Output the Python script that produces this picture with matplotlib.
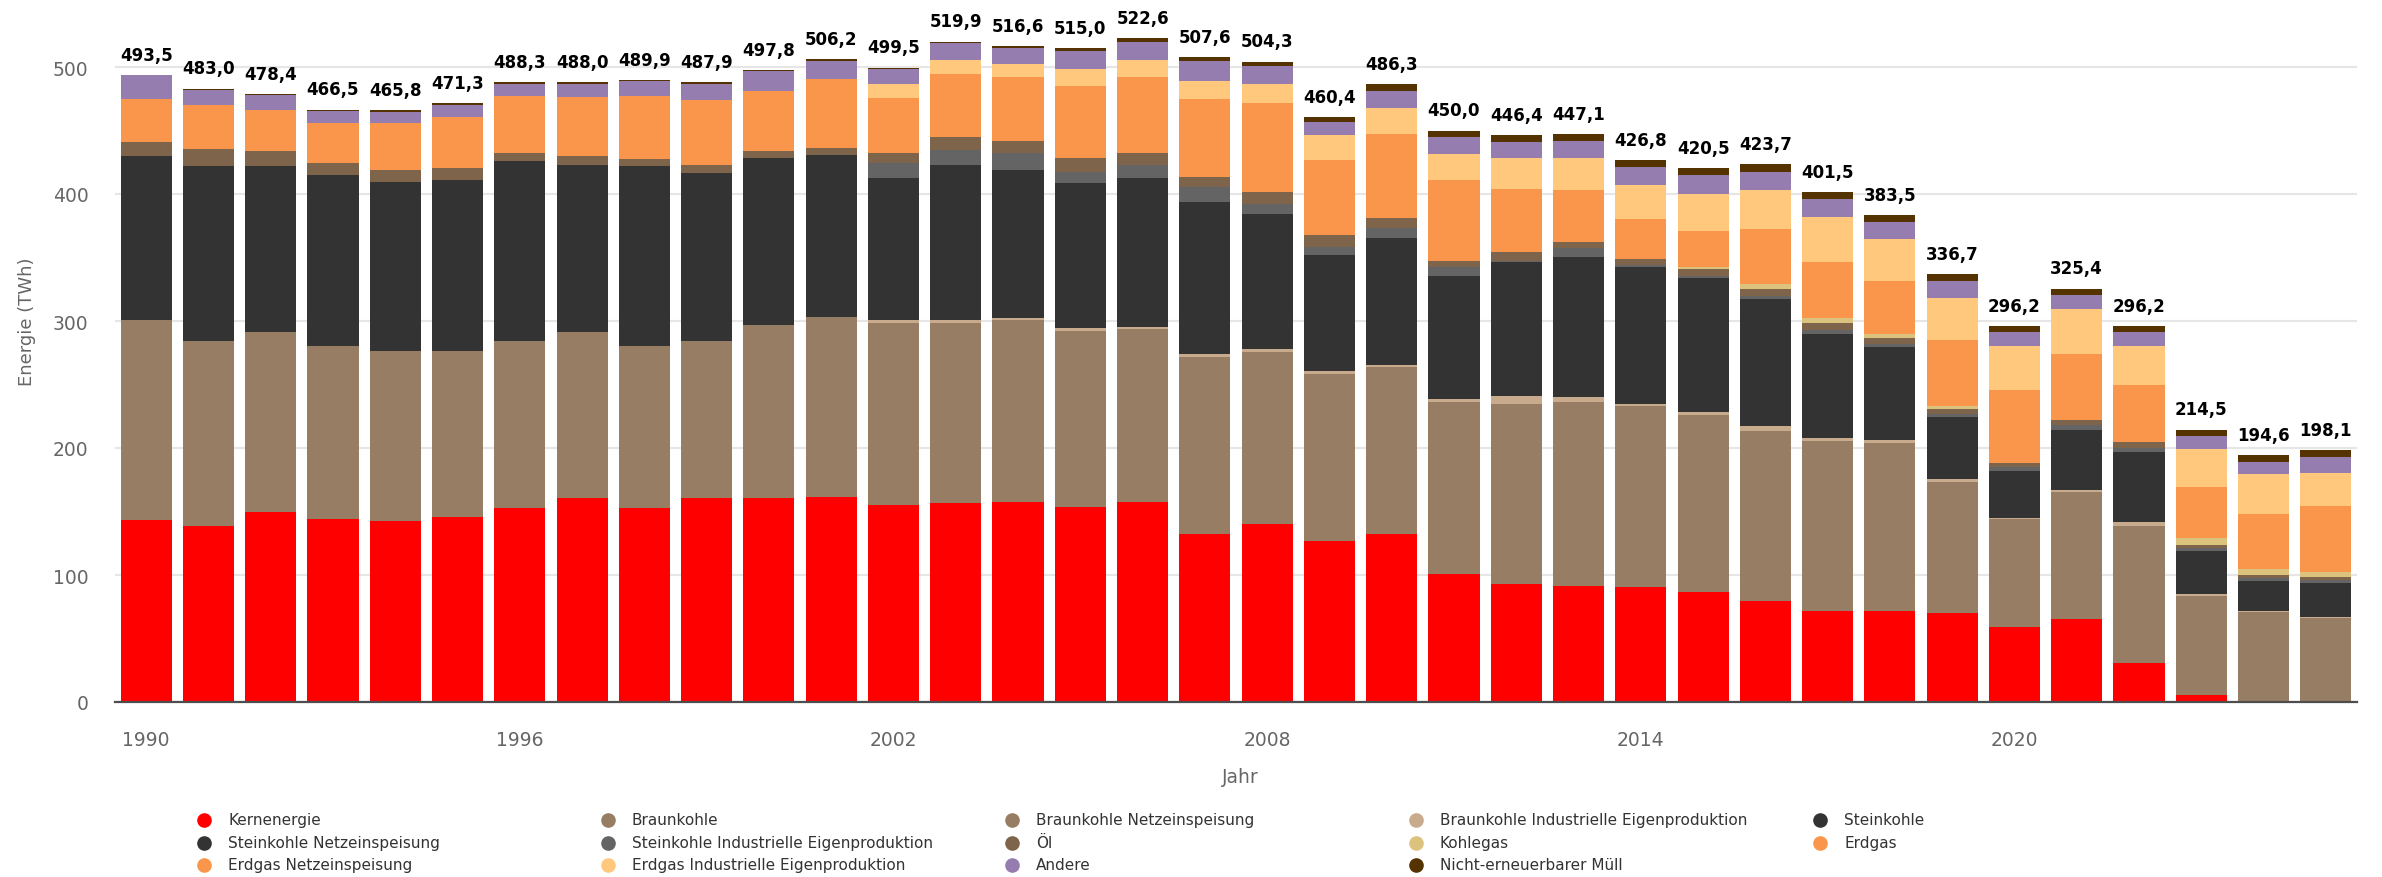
import matplotlib
matplotlib.use("Agg")
import matplotlib.pyplot as plt
import numpy as np
from matplotlib.lines import Line2D

# Data (TWh)
years = list(range(1990, 2026))
totals = [493.5, 483.0, 478.4, 466.5, 465.8, 471.3, 488.3, 488.0, 489.9, 487.9,
          497.8, 506.2, 499.5, 519.9, 516.6, 515.0, 522.6, 507.6, 504.3, 460.4,
          486.3, 450.0, 446.4, 447.1, 426.8, 420.5, 423.7, 401.5, 383.5, 336.7,
          296.2, 325.4, 296.2, 214.5, 194.6, 198.1]

kernenergie = [143.5, 138.9, 149.7, 144.2, 142.9, 145.5, 152.4, 160.5, 152.4, 160.5,
               160.5, 161.6, 155.0, 156.3, 157.6, 153.7, 157.6, 132.1, 140.3, 126.6,
               132.1, 101.1, 92.9, 91.6, 90.3, 86.3, 79.7, 71.6, 71.6, 70.3,
               59.2, 65.0, 30.8, 5.5, 0.0, 0.0]
braunkohle = [157.0, 145.6, 141.6, 136.1, 133.4, 130.8, 132.1, 130.8, 127.9, 124.0,
              136.1, 141.8, 143.7, 142.4, 143.2, 138.4, 135.9, 139.5, 135.3, 131.6,
              131.3, 135.0, 141.8, 144.5, 142.6, 139.3, 133.5, 133.7, 132.3, 102.6,
              85.0, 100.5, 108.1, 78.2, 70.5, 65.8]
braunkohle_ind = [0, 0, 0, 0, 0, 0, 0, 0, 0, 0,
                  0, 0, 2.1, 2.1, 1.3, 2.6, 1.8, 2.6, 2.6, 2.6,
                  2.1, 2.6, 6.6, 3.9, 1.8, 2.6, 3.9, 2.6, 2.7, 2.6,
                  1.0, 1.3, 2.6, 1.3, 1.3, 1.3]
steinkohle = [129.5, 137.3, 130.5, 135.0, 133.4, 134.7, 141.3, 131.9, 141.5, 132.1,
              132.1, 127.7, 111.6, 122.4, 117.1, 113.7, 117.1, 119.2, 105.8, 91.0,
              99.8, 96.8, 105.0, 110.5, 107.7, 106.0, 100.0, 82.1, 72.9, 48.8,
              36.8, 47.4, 55.5, 33.9, 23.5, 26.8]
steinkohle_ind = [0, 0, 0, 0, 0, 0, 0, 0, 0, 0,
                  0, 0, 12.1, 11.8, 13.4, 9.2, 10.8, 12.1, 8.1, 6.6,
                  7.9, 6.9, 1.3, 6.6, 1.5, 1.3, 2.6, 2.6, 2.1, 2.6,
                  3.0, 3.9, 3.2, 2.1, 2.1, 2.2]
oel = [10.8, 13.5, 12.2, 9.2, 9.3, 9.5, 6.8, 6.8, 5.6, 6.6,
       5.3, 5.5, 8.1, 9.7, 9.5, 11.1, 9.4, 8.2, 9.5, 9.5,
       8.1, 5.2, 6.9, 5.3, 5.3, 5.3, 5.3, 5.6, 5.2, 3.9,
       3.0, 4.0, 4.7, 2.6, 2.6, 2.1]
kohlegas = [0, 0, 0, 0, 0, 0, 0, 0, 0, 0,
            0, 0, 0, 0, 0, 0, 0, 0, 0, 0,
            0, 0, 0, 0, 0, 1.6, 4.0, 3.9, 2.7, 2.1,
            0, 0, 0, 5.8, 4.7, 3.9]
erdgas = [33.7, 35.0, 32.3, 31.3, 36.8, 39.8, 44.8, 46.0, 50.0, 51.0,
          47.0, 54.2, 43.2, 49.8, 49.7, 56.3, 59.2, 60.8, 70.0, 59.2,
          66.1, 63.5, 49.7, 40.8, 31.1, 28.4, 43.1, 44.5, 42.1, 51.8,
          57.5, 52.3, 44.5, 40.2, 43.5, 52.6]
erdgas_ind = [0, 0, 0, 0, 0, 0, 0, 0, 0, 0,
              0, 0, 10.5, 10.8, 10.8, 13.7, 13.5, 14.7, 14.7, 19.0,
              20.2, 20.2, 24.5, 25.5, 26.8, 29.5, 30.8, 35.0, 33.0, 33.2,
              35.0, 35.0, 31.0, 29.8, 31.3, 25.6]
andere = [19.0, 11.2, 11.6, 9.4, 8.7, 9.7, 9.6, 10.7, 11.2, 12.4,
          15.5, 14.1, 11.9, 13.3, 12.7, 13.7, 14.7, 15.8, 14.1, 10.4,
          13.4, 13.4, 12.4, 13.1, 14.4, 14.9, 14.2, 14.6, 13.6, 13.5,
          11.0, 10.7, 11.1, 10.4, 9.8, 12.5]
muell = [0, 1.5, 0.5, 1.3, 1.3, 1.3, 1.3, 1.3, 1.3, 1.3,
         1.3, 1.3, 1.3, 1.3, 1.3, 2.6, 2.6, 2.6, 3.9, 3.9,
         5.3, 5.3, 5.3, 5.3, 5.3, 5.3, 6.6, 5.3, 5.3, 5.3,
         4.7, 5.3, 4.7, 4.7, 5.3, 5.3]

# stacking order bottom -> top
stack = [
    (kernenergie, "#ff0000"),
    (braunkohle, "#977d64"),
    (braunkohle_ind, "#c8aa8c"),
    (steinkohle, "#333333"),
    (steinkohle_ind, "#646464"),
    (oel, "#7d644b"),
    (kohlegas, "#dcc37d"),
    (erdgas, "#f9964b"),
    (erdgas_ind, "#ffc87d"),
    (andere, "#967daf"),
    (muell, "#553300"),
]

legend_names = ["Kernenergie", "Braunkohle", "Braunkohle Netzeinspeisung",
                "Braunkohle Industrielle Eigenproduktion", "Steinkohle",
                "Steinkohle Netzeinspeisung", "Steinkohle Industrielle Eigenproduktion",
                "Öl", "Kohlegas", "Erdgas",
                "Erdgas Netzeinspeisung", "Erdgas Industrielle Eigenproduktion",
                "Andere", "Nicht-erneuerbarer Müll"]
legend_colors = ["#ff0000", "#977d64", "#977d64", "#c8aa8c", "#333333",
                 "#333333", "#646464", "#7d644b", "#dcc37d", "#f9964b",
                 "#f9964b", "#ffc87d", "#967daf", "#553300"]

W, H = 2382, 878
fig = plt.figure(figsize=(W / 100, H / 100), dpi=100)
# axis runs 0..600, its top lies above the figure edge (cropped like the original)
ax = fig.add_axes([115 / W, 175 / H, 2242 / W, 762 / H])

x = np.arange(len(years))
bottom = np.zeros(len(years))
for values, color in stack:
    ax.bar(x, values, 0.82, bottom=bottom, color=color, linewidth=0, zorder=2)
    bottom += np.array(values)

for xi, top, t in zip(x, bottom, totals):
    ax.annotate(f"{t:.1f}".replace(".", ","), (xi, top), xytext=(0, 11),
                textcoords="offset points", ha="center", va="baseline",
                fontsize=12, fontweight="bold", color="#000000")

ax.set_xlim(-0.5, len(years) - 0.5)
ax.set_ylim(0, 600)
ax.set_yticks(range(0, 501, 100))
ax.set_xticks(x[::6])
ax.set_xticklabels([str(y) for y in years[::6]])
ax.grid(axis="y", color="#e6e6e6", linewidth=1.5, zorder=0)
ax.set_axisbelow(True)
for s in ["top", "right", "left"]:
    ax.spines[s].set_visible(False)
ax.spines["bottom"].set_color("#4d4d4d")
ax.spines["bottom"].set_linewidth(1.6)
ax.spines["bottom"].set_zorder(3)
ax.tick_params(axis="both", length=0, labelsize=13.5, labelcolor="#666666")
ax.tick_params(axis="y", pad=19)
ax.tick_params(axis="x", pad=20)

ax.set_xlabel("Jahr", fontsize=13.5, color="#666666")
ax.xaxis.label.set_va("center")
ax.xaxis.set_label_coords(0.502, -(778 - 703) / 762)
ax.set_ylabel("Energie (TWh)", fontsize=13, color="#666666")
ax.yaxis.label.set_va("center")
ax.yaxis.set_label_coords(-(115 - 27) / 2242, 0.5)

# legend, laid out row by row in 5 columns
for i, (name, color) in enumerate(zip(legend_names, legend_colors)):
    row, col = divmod(i, 5)
    mx = (204 + col * 404) / W
    my = 1 - (821 + row * 22.5) / H
    fig.add_artist(Line2D([mx], [my], transform=fig.transFigure, marker="o",
                          markersize=9.5, color=color, linestyle="none"))
    fig.text(mx + 24 / W, my, name, ha="left", va="center",
             fontsize=11, color="#333333")

fig.savefig("out.png", dpi=100)
